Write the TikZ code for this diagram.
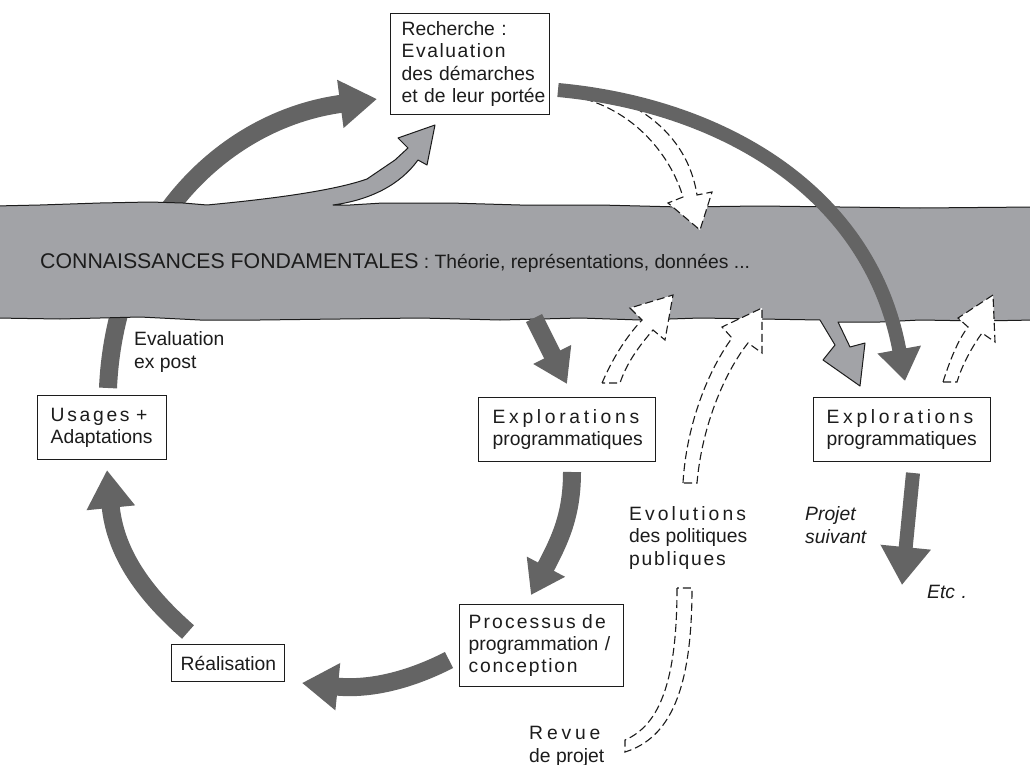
\documentclass[tikz,border=0pt]{standalone}
\usepackage{fontspec}
\setmainfont{Liberation Sans}
\usetikzlibrary{arrows.meta}
\definecolor{bandgray}{RGB}{162,163,167}
\definecolor{darkarr}{RGB}{100,100,100}
\definecolor{ink}{RGB}{28,28,28}
\newcommand\lsp[2]{{\addfontfeature{LetterSpace=#1}#2}}
\newcommand\ml[1]{\mbox{#1}}
\tikzset{
  box/.style={draw=ink, line width=1.3pt, fill=white, anchor=north west, align=left,
    text=ink, inner ysep=0pt, font=\fontsize{19.3}{22.3}\selectfont},
  lbl/.style={anchor=base west, inner sep=0pt, align=left, text=ink,
    font=\fontsize{19.3}{22.3}\selectfont},
  darr/.style={draw=darkarr, line width=18pt, line cap=butt,
    -{Triangle[length=37pt,width=46pt]}},
  dashout/.style={draw=ink, fill=white, line width=1.1pt, dash pattern=on 8pt off 4pt,
    line join=miter},
  bandedge/.style={draw=ink, fill=bandgray, line width=1pt, line join=round}
}
\begin{document}
\begin{tikzpicture}[x=1pt,y=-1pt]
\useasboundingbox (0,0) rectangle (1030,765);
\fill[white] (0,0) rectangle (1030,765);

% named anchor points for connectors
\coordinate (usaTop) at (108,388);
\coordinate (rechIn) at (377,99);
\coordinate (rechOut) at (558,90);
\coordinate (exp2In) at (905,381);

% arrow Usages -> Recherche (passes under the band)
\draw[darr] (usaTop) .. controls (115,230) and (220,120) .. (rechIn);

% band of fundamental knowledge
\path[bandedge] (-5,206) -- (40,205) -- (100,203) -- (150,202) -- (183,203) -- (207,205)
  .. controls (260,200) and (330,192) .. (367,179) -- (395,160) -- (408,148)
  -- (398,138) -- (435,125) -- (427,165) -- (418,160)
  .. controls (400,185) and (370,200) .. (333,205)
  -- (350,205) -- (383,203) -- (450,203) -- (520,205) -- (600,205) -- (680,207)
  -- (760,206) -- (840,207) -- (920,208) -- (1035,207) -- (1035,320)
  -- (980,321) -- (920,320) -- (880,322) -- (838,322) -- (850,347) -- (865,343)
  -- (860,386) -- (823,360) -- (835,345) -- (820,320) -- (760,319) -- (700,318)
  -- (640,320) -- (580,318) -- (500,320) -- (420,318) -- (340,319) -- (260,320)
  -- (200,320) -- (140,317) -- (60,319) -- (-5,318) -- cycle;

\node[anchor=base west, inner sep=0pt, text=ink] (band) at (40,268)
  {{\fontsize{21.3}{24}\selectfont CONNAISSANCES FONDAMENTALES}{\fontsize{19.3}{22}\selectfont{} : Théorie, représentations, données ...}};

% dashed arrow Recherche -> band
\path[dashout] (585,99) .. controls (640,115) and (672,160) .. (683,197) -- (668,203)
  -- (700,230) -- (712,192) -- (697,195) .. controls (690,150) and (660,115) .. (610,96) -- cycle;

% arrow Recherche -> Explorations 2
\draw[darr, line width=14pt, -{Triangle[length=32pt,width=42pt]}] (rechOut) .. controls (720,105) and (870,190) .. (exp2In);

% arrow band -> Explorations 1
\draw[darr, -{Triangle[length=33pt,width=40pt]}] (534,318) -- (567,384);

% dashed arrows to band
\path[dashout] (602,383) .. controls (612,360) and (625,338) .. (642,320) -- (630,308)
  -- (673,295) -- (665,340) -- (653,330) .. controls (640,345) and (627,362) .. (620,383) -- cycle;
\path[dashout] (683,483) .. controls (686,430) and (705,375) .. (732,338) -- (722,327)
  -- (762,308) -- (762,353) -- (748,343) .. controls (725,372) and (702,425) .. (697,483) -- cycle;
\path[dashout] (943,382) .. controls (950,360) and (958,340) .. (968,327) -- (958,318)
  -- (993,295) -- (995,342) -- (982,333) .. controls (972,347) and (962,365) .. (957,382) -- cycle;
\path[dashout] (677,588) .. controls (677,680) and (660,725) .. (625,740) -- (625,752)
  .. controls (670,738) and (692,690) .. (692,588) -- cycle;

% cycle arrows
\draw[darr, -{Triangle[length=32pt,width=41pt]}] (572,472) .. controls (572,515) and (560,540) .. (531,595);
\draw[darr, -{Triangle[length=36pt,width=45pt]}] (449,660) .. controls (410,680) and (370,690) .. (302,683);
\draw[darr, -{Triangle[length=38pt,width=46pt]}] (188,632) .. controls (140,590) and (115,550) .. (107,470);
\draw[darr, line width=14pt, -{Triangle[length=38pt,width=48pt]}] (913,473) -- (902,585);

% boxes
\node[box, inner xsep=11pt, text width=137pt, minimum height=101pt] (rech) at (390,13)
  {\ml{Recherche :}\\ \ml{\lsp{8}{Evaluation}}\\ \ml{des démarches}\\ \ml{et de leur portée}};
\node[box, inner xsep=13pt, text width=103pt, minimum height=64pt] (usa) at (37,395)
  {\ml{\lsp{14}{Usages\ +}}\\ \ml{Adaptations}};
\node[box, inner xsep=14pt, text width=149pt, minimum height=64pt] (exp1) at (478,397)
  {\ml{\lsp{19}{Explorations}}\\ \ml{programmatiques}};
\node[box, inner xsep=13pt, text width=151pt, minimum height=64pt] (exp2) at (813,397)
  {\ml{\lsp{19}{Explorations}}\\ \ml{programmatiques}};
\node[box, inner xsep=9pt, text width=146pt, minimum height=82pt] (proc) at (459,604)
  {\ml{\lsp{11}{Processus de}}\\ \ml{programmation /}\\ \ml{\lsp{9}{conception}}};
\node[box, inner xsep=9pt, text width=95pt, minimum height=37pt] (real) at (171,644)
  {\ml{Réalisation}};

% free labels (base = last line)
\node[lbl] (evpost) at (134,368) {Evaluation\\ ex post};
\node[lbl] (evol) at (629,565) {\lsp{16}{Evolutions}\\ des politiques\\ \lsp{9}{publiques}};
\node[lbl, font=\fontsize{19.3}{22.3}\selectfont\itshape] (proj) at (805,543) {Projet\\ suivant};
\node[lbl, font=\fontsize{19.3}{22.3}\selectfont\itshape] (etc) at (927,598) {Etc\,\,.};
\node[lbl] (revue) at (529,762) {\lsp{20}{Revue}\\ de projet};
\end{tikzpicture}
\end{document}
